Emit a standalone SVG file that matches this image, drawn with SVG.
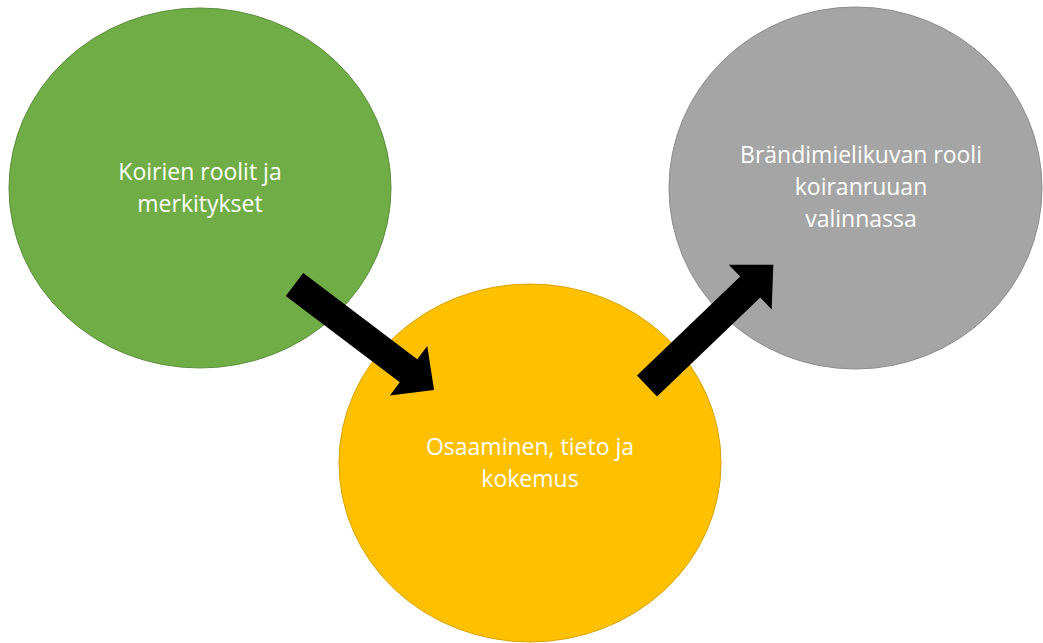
<svg xmlns="http://www.w3.org/2000/svg" width="1043" height="643" viewBox="0 0 1043 643">
  <style>
    .label { font-family: "Open Sans", "Liberation Sans", sans-serif; font-size: 23px; fill: #ffffff; text-anchor: middle; }
    .green { fill: #70ad47; stroke: #5b8f3a; stroke-width: 1; }
    .yellow { fill: #ffc000; stroke: #d9a300; stroke-width: 1; }
    .gray { fill: #a5a5a5; stroke: #8c8c8c; stroke-width: 1; }
    .arrow { fill: #000000; }
  </style>
  <defs>
    <!-- block arrow, tail at origin, pointing along +x -->
    <polygon id="blockArrow" points="0,-14.5 143,-14.5 143,-31 175,0 143,31 143,14.5 0,14.5"/>
  </defs>
  <rect width="1043" height="643" fill="#ffffff"/>

  <g id="node-roles">
    <ellipse class="green" cx="200" cy="188" rx="191" ry="180"/>
    <text class="label" x="200" y="180">Koirien roolit ja</text>
    <text class="label" x="200" y="212">merkitykset</text>
  </g>

  <g id="node-knowledge">
    <ellipse class="yellow" cx="530" cy="463" rx="191" ry="179"/>
    <text class="label" x="530" y="455">Osaaminen, tieto ja</text>
    <text class="label" x="530" y="487">kokemus</text>
  </g>

  <g id="node-brand">
    <ellipse class="gray" cx="855.5" cy="188" rx="186.5" ry="181"/>
    <text class="label" x="861" y="163">Brändimielikuvan rooli</text>
    <text class="label" x="861" y="195">koiranruuan</text>
    <text class="label" x="861" y="227">valinnassa</text>
  </g>

  <g id="connectors">
    <use href="#blockArrow" class="arrow" transform="translate(294.5 284.5) rotate(37.1)"/>
    <use href="#blockArrow" class="arrow" transform="translate(647 386) rotate(-43.8)"/>
  </g>
</svg>
